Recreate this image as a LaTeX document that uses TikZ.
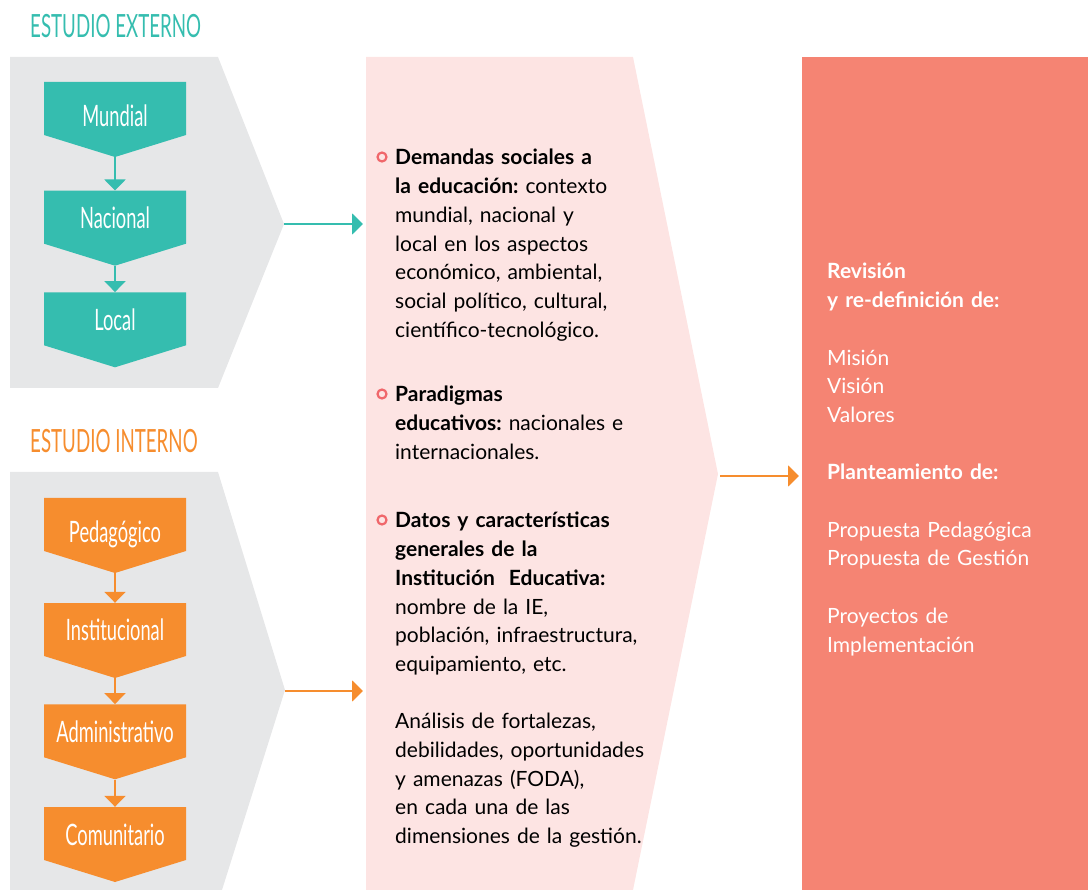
\documentclass[tikz,border=0pt]{standalone}
\usepackage{fontspec}
\setmainfont{Lato}
\newfontfamily\condfont[FakeStretch=0.62]{Lato}
\newfontfamily\headfont[FakeStretch=0.585]{Lato}
\usetikzlibrary{arrows.meta}
\definecolor{teal}{HTML}{35BDAF}
\definecolor{orange}{HTML}{F68D2E}
\definecolor{panelgray}{HTML}{E6E7E8}
\definecolor{pinkbg}{HTML}{FDE4E3}
\definecolor{salmon}{HTML}{F58473}
\definecolor{ring}{HTML}{F0676B}
\frenchspacing

\begin{document}
\begin{tikzpicture}[x = 1pt, y = -1pt,
    stage/.style={minimum width=142pt, minimum height=75pt, inner sep=0pt, text=white,
        font=\condfont\fontsize{29.5}{30}\selectfont, text height=21pt, text depth=6pt},
    raised/.style={text height=21pt, text depth=20pt},
    flow/.style={line width=2pt, -{Triangle[width=21pt,length=11pt]}},
    heading/.style={anchor=base west, inner sep=0pt, font=\headfont\fontsize{32}{34}\selectfont},
    bodytext/.style={anchor=base west, inner sep=0pt, text width=300pt, align=left,
        font=\fontsize{21}{28.7}\selectfont},
    dot/.style={circle, draw=ring, fill=pinkbg, line width=2.2pt, minimum size=9pt, inner sep=0pt}]
        \useasboundingbox (0,0) rectangle (1088,890);
        % panels
        \fill[panelgray] (10,57) -- (218,57) -- (284,224) -- (218,388) -- (10,388) -- cycle;
        \fill[panelgray] (10,472) -- (218,472) -- (285,690) -- (222,890) -- (10,890) -- cycle;
        \fill[pinkbg] (366,57) -- (633,57) -- (718,474) -- (633,890) -- (366,890) -- cycle;
        \fill[salmon] (802,57) rectangle (1088,890);
        % titles
        \node[heading, text=teal] (externo) at (30,38) {ESTUDIO EXTERNO};
        \node[heading, text=orange] (interno) at (30,453) {ESTUDIO INTERNO};
        % chevrons
        \foreach \t in {82,190.7,292.3}
            \fill[teal] (44,\t) -- ++(142,0) -- ++(0,53) -- ++(-71,22) -- ++(-71,-22) -- cycle;
        \foreach \t in {498,603,704.3,807}
            \fill[orange] (44,\t) -- ++(142,0) -- ++(0,53) -- ++(-71,22) -- ++(-71,-22) -- cycle;
        \node[stage] (mundial) at (115,119.5) {Mundial};
        \node[stage, raised] (nacional) at (115,228.2) {Nacional};
        \node[stage, raised] (local) at (115,329.8) {Local};
        \node[stage] (pedagogico) at (115,535.5) {Pedagógico};
        \node[stage, raised] (institucional) at (115,640.5) {Institucional};
        \node[stage, raised] (administrativo) at (115,741.8) {Administrativo};
        \node[stage, raised] (comunitario) at (115,844.5) {Comunitario};
        \draw[flow, teal] (mundial.south) -- (nacional.north);
        \draw[flow, teal] (nacional.south) -- (local.north);
        \draw[flow, orange] (pedagogico.south) -- (institucional.north);
        \draw[flow, orange] (institucional.south) -- (administrativo.north);
        \draw[flow, orange] (administrativo.south) -- (comunitario.north);
        % arrows between panels
        \coordinate (extTip) at (284,224);
        \coordinate (extEnd) at (363,224);
        \coordinate (intTip) at (285,691);
        \coordinate (intEnd) at (363,691);
        \coordinate (midTip) at (720,476);
        \coordinate (midEnd) at (799,476);
        \draw[flow, teal] (extTip) -- (extEnd);
        \draw[flow, orange] (intTip) -- (intEnd);
        \draw[flow, orange] (midTip) -- (midEnd);
        % middle texts
        \node[dot] (dot1) at (382,157) {};
        \node[dot] (dot2) at (382,394) {};
        \node[dot] (dot3) at (382,520) {};
        \node[bodytext] (demandas) at (395,165) {\textbf{Demandas sociales a}\\
            \textbf{la educación:} contexto\\mundial, nacional y\\local en los aspectos\\
            económico, ambiental,\\social político, cultural,\\científico-tecnológico.};
        \node[bodytext] (paradigmas) at (395,402) {\textbf{Paradigmas}\\
            \textbf{educativos:} nacionales e\\internacionales.};
        \node[bodytext] (datos) at (395,528) {\textbf{Datos y características}\\
            \textbf{generales de la}\\\textbf{Institución\ \ Educativa:}\\nombre de la IE,\\
            población, infraestructura,\\equipamiento, etc.\\[28.7pt]
            Análisis de fortalezas,\\debilidades, oportunidades\\y amenazas (FODA),\\
            en cada una de las\\dimensiones de la gestión.};
        % right panel
        \node[bodytext, text=white, text width=250pt] (revision) at (827,279) {\textbf{Revisión}\\
            \textbf{y re-definición de:}\\[28.7pt]Misión\\Visión\\Valores\\[28.7pt]
            \textbf{Planteamiento de:}\\[28.7pt]Propuesta Pedagógica\\Propuesta de Gestión\\[28.7pt]
            Proyectos de\\Implementación};
    \end{tikzpicture}
\end{document}
